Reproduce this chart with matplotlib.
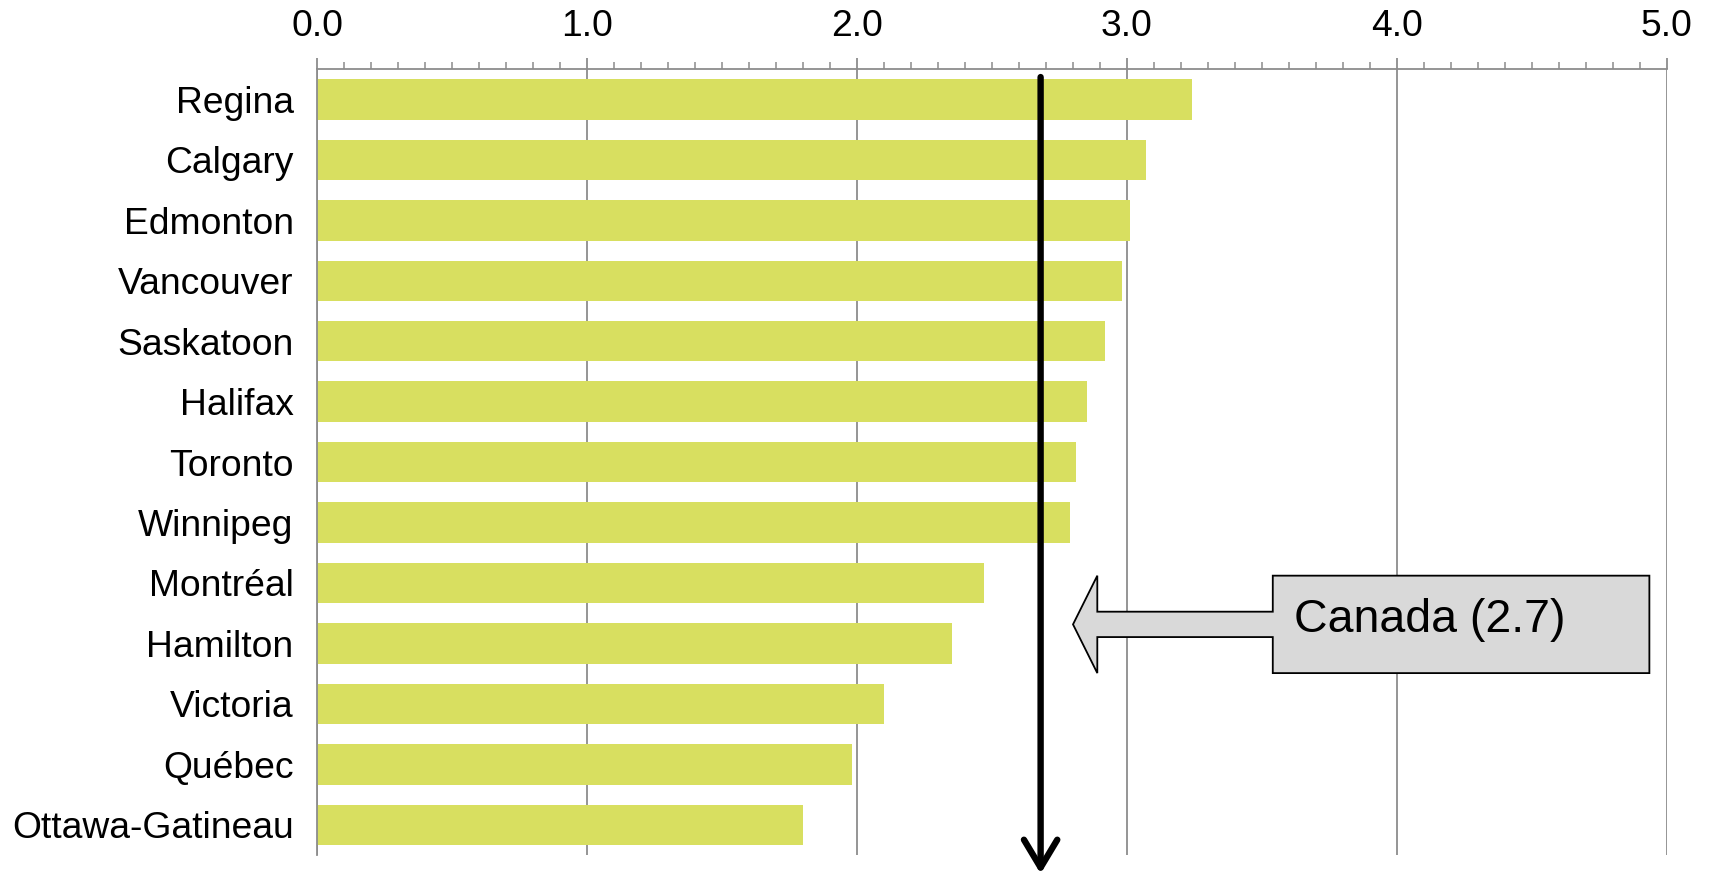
import matplotlib
matplotlib.use("Agg")
import matplotlib.pyplot as plt
from matplotlib.patches import Polygon
from matplotlib.ticker import MultipleLocator

# -----------------------------
# Data
# -----------------------------
cities = ["Regina", "Calgary", "Edmonton", "Vancouver", "Saskatoon", "Halifax",
          "Toronto", "Winnipeg", "Montréal", "Hamilton", "Victoria", "Québec",
          "Ottawa-Gatineau"]
values = [3.24, 3.07, 3.01, 2.98, 2.92, 2.85, 2.81, 2.79, 2.47, 2.35, 2.10, 1.98, 1.80]
canada_value = 2.68
canada_label = "Canada (2.7)"
x_ticks = [0.0, 1.0, 2.0, 3.0, 4.0, 5.0]

BAR_COLOR = "#d8df60"
GRID_COLOR = "#8c8c8c"

plt.rcParams["font.family"] = ["Liberation Sans", "DejaVu Sans"]

fig = plt.figure(figsize=(17.16, 8.76), dpi=100)
ax = fig.add_axes([0.1848, 0.024, 0.7866, 0.897])

ypos = list(range(len(cities)))
ax.barh(ypos, values, height=0.67, color=BAR_COLOR, zorder=2)

ax.set_ylim(len(cities) - 0.5, -0.5)
ax.set_xlim(x_ticks[0], x_ticks[-1])
ax.set_yticks(ypos)
ax.set_yticklabels(cities, fontsize=26.8)
ax.tick_params(axis="y", length=0, pad=17)

# x axis on top with minor ticks
ax.xaxis.tick_top()
ax.set_xticks(x_ticks)
ax.set_xticklabels([f"{t:.1f}" for t in x_ticks], fontsize=26.8)
ax.xaxis.set_minor_locator(MultipleLocator(0.1))
ax.tick_params(axis="x", which="major", direction="out", length=8, width=1.3,
               color=GRID_COLOR, pad=10)
ax.tick_params(axis="x", which="minor", direction="out", length=5, width=1.1,
               color=GRID_COLOR)
ax.grid(axis="x", which="major", color=GRID_COLOR, lw=1.3, zorder=1)
ax.set_axisbelow(True)

for side in ["right", "bottom"]:
    ax.spines[side].set_visible(False)
for side in ["top", "left"]:
    ax.spines[side].set_color(GRID_COLOR)
    ax.spines[side].set_linewidth(1.3)

# Canada average: thick black arrow running down past the axes
ax.annotate("", xy=(canada_value, 12.81), xytext=(canada_value, -0.37),
            arrowprops=dict(arrowstyle="->,head_length=1.0,head_width=0.6",
                            lw=4.6, color="black", mutation_scale=20,
                            shrinkA=0, shrinkB=0),
            annotation_clip=False, zorder=5)

# Callout box with left-pointing arrow
cy = 8.685
half_h = 0.806
half_shaft = 0.21
tip_x, base_x, box_l, box_r = 2.80, 2.89, 3.54, 4.935
shape = [(tip_x, cy), (base_x, cy - half_h), (base_x, cy - half_shaft),
         (box_l, cy - half_shaft), (box_l, cy - half_h), (box_r, cy - half_h),
         (box_r, cy + half_h), (box_l, cy + half_h), (box_l, cy + half_shaft),
         (base_x, cy + half_shaft), (base_x, cy + half_h)]
ax.add_patch(Polygon(shape, closed=True, facecolor="#d9d9d9", edgecolor="black",
                     lw=1.3, zorder=4))
ax.text(3.62, cy - 0.08, canada_label, fontsize=33.5, ha="left", va="center", zorder=6)

fig.savefig("out.png", dpi=100)
